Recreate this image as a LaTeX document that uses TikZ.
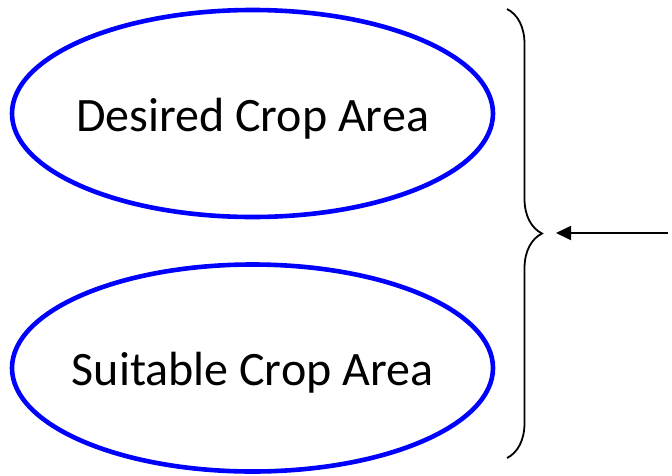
\documentclass[tikz,border=0pt]{standalone}
\usepackage{fontspec}
\setmainfont{Carlito}
\usetikzlibrary{shapes.geometric,decorations.pathreplacing,arrows.meta}
\begin{document}
\begin{tikzpicture}[x=1pt,y=-1pt,
  area/.style={ellipse,draw=blue,line width=4.6pt,minimum width=481pt,minimum height=207pt,inner sep=0pt},
  areatext/.style={anchor=base,inner sep=0pt,font=\fontsize{48}{52}\selectfont}]
  \useasboundingbox (0,0) rectangle (672,475);
  \node[area] (desired) at (252.5,113.5) {};
  \node[area] (suitable) at (252.5,368) {};
  \node[areatext] (desiredtext) at ([yshift=-18pt]desired.center) {Desired Crop Area};
  \node[areatext] (suitabletext) at ([yshift=-17pt]suitable.center) {Suitable Crop Area};
  \draw[line width=1.8pt,decorate,decoration={brace,amplitude=35pt}] (507,9) -- (507,458);
  \coordinate (tip) at (556,233);
  \coordinate (start) at (668,233);
  \draw[line width=1.8pt,-{Triangle[length=15pt,width=14pt]}] (start) -- (tip);
\end{tikzpicture}
\end{document}
